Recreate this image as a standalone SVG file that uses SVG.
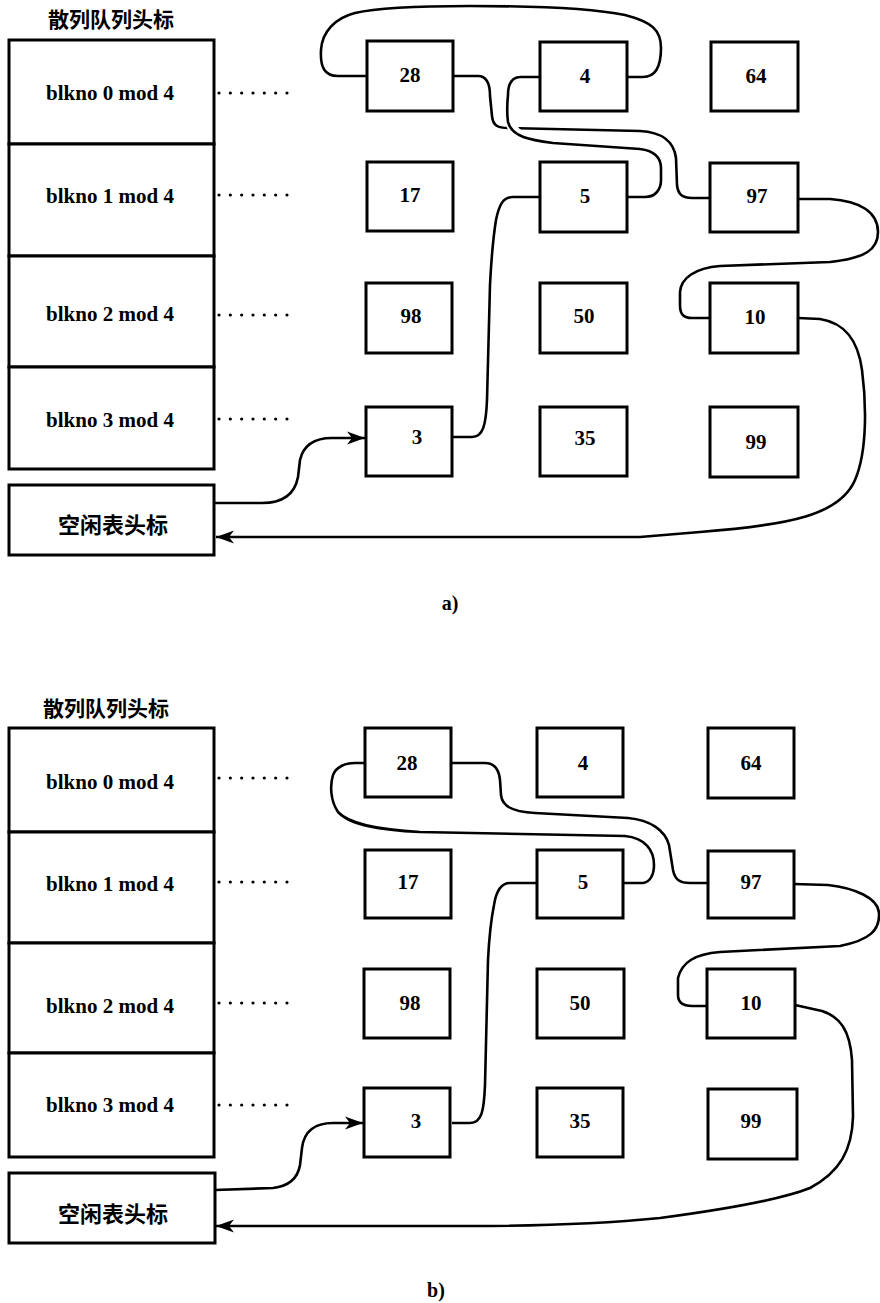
<svg xmlns="http://www.w3.org/2000/svg" width="880" height="1303" viewBox="0 0 880 1303">
<defs>
<style>
.box{fill:#fff;stroke:#000;stroke-width:3}
.t{font-family:"Liberation Serif","Times New Roman",serif;font-weight:bold;font-size:21px;fill:#000;text-anchor:middle;dominant-baseline:central}
.cjk{font-family:"Noto Sans CJK SC","Noto Sans CJK JP",sans-serif;font-weight:bold;font-size:21px;fill:#000;dominant-baseline:central}
.dots{stroke:#000;stroke-width:3.2;stroke-linecap:round;stroke-dasharray:0 11.33;fill:none}
.c{fill:none;stroke:#000;stroke-width:2.6;stroke-linecap:butt;stroke-linejoin:round}
.halo{fill:none;stroke:#fff;stroke-width:10}
.lbl{font-family:"Liberation Serif","Times New Roman",serif;font-weight:bold;font-size:20px;fill:#000;text-anchor:middle;dominant-baseline:central}
</style>
<marker id="arr" markerWidth="20" markerHeight="14" refX="18" refY="7" orient="auto" markerUnits="userSpaceOnUse">
<path d="M0,0.5 L18,7 L0,13.5 L5,7 z" fill="#000"/>
</marker>
</defs>
<rect width="880" height="1303" fill="#fff"/>

<!-- ===== Diagram a) ===== -->
<text class="cjk" x="48" y="18">散列队列头标</text>

<g id="connectors-a">
<path class="c" d="M453,76 L478,76 C488,76 490,86 490,96 L492,116 C493,126 498,128 508,128 L640,131 C662,132 674,142 676,158 L677,185 C678,195 683,198 692,198 L710,198"/>
<path class="halo" d="M508,108 C508,122 512,134 528,139"/>
<path class="c" d="M628,197 L645,197 C655,197 661,190 661,180 L661,168 C661,158 655,151 640,149 L553,143 C530,140 512,137 508,122 C507,115 507,105 508,95 C508,84 512,77 521,77 L540,77"/>
<path class="c" d="M627,77 L643,77 C656,77 661,66 661,48 C661,30 652,22 625,15 C590,8 530,6 470,6 C420,6 380,7 355,13 C335,18 322,32 321,50 C320,68 325,76 338,76 L367,76"/>
<path class="c" d="M540,197 L513,197 C503,197 499,205 496,220 C492,245 491,265 490,285 L487,400 C486,425 483,437 472,437 L453,437"/>
<path class="c" d="M798,199 L830,199 C860,201 878,212 878,232 C878,250 865,258 830,262 L720,266 C695,268 681,278 680,292 L680,305 C680,315 684,318 692,318 L710,318"/>
<path class="c" d="M798,318 L820,319 C845,323 858,340 862,370 C866,400 868,450 855,480 C840,515 790,525 700,532 L640,537 L216,537" marker-end="url(#arr)"/>
<path class="c" d="M215,503 L262,503 C285,503 295,493 298,477 L300,460 C303,447 312,438 332,438 L365,438" marker-end="url(#arr)"/>
</g>

<g id="hash-a-0"><rect class="box" x="9" y="40" width="205" height="104"/><text class="t" x="110" y="93">blkno 0 mod 4</text><line class="dots" x1="219" y1="93" x2="288" y2="93"/></g>
<g id="hash-a-1"><rect class="box" x="9" y="144" width="205" height="112"/><text class="t" x="110" y="196">blkno 1 mod 4</text><line class="dots" x1="219" y1="195" x2="288" y2="195"/></g>
<g id="hash-a-2"><rect class="box" x="9" y="256" width="205" height="111"/><text class="t" x="110" y="314">blkno 2 mod 4</text><line class="dots" x1="219" y1="315" x2="288" y2="315"/></g>
<g id="hash-a-3"><rect class="box" x="9" y="367" width="205" height="102"/><text class="t" x="110" y="420">blkno 3 mod 4</text><line class="dots" x1="219" y1="419" x2="288" y2="419"/></g>
<g id="free-a"><rect class="box" x="9" y="485" width="205" height="70"/><text class="cjk" x="113" y="523" style="text-anchor:middle;font-size:22px">空闲表头标</text></g>

<g id="a-28"><rect class="box" x="367" y="41" width="86" height="70"/><text class="t" x="410" y="75">28</text></g>
<g id="a-4"><rect class="box" x="540" y="42" width="87" height="69"/><text class="t" x="585" y="76">4</text></g>
<g id="a-64"><rect class="box" x="711" y="42" width="87" height="69"/><text class="t" x="756" y="76">64</text></g>
<g id="a-17"><rect class="box" x="367" y="162" width="86" height="69"/><text class="t" x="410" y="195">17</text></g>
<g id="a-5"><rect class="box" x="540" y="162" width="87" height="70"/><text class="t" x="585" y="196">5</text></g>
<g id="a-97"><rect class="box" x="710" y="163" width="88" height="69"/><text class="t" x="757" y="196">97</text></g>
<g id="a-98"><rect class="box" x="366" y="283" width="86" height="70"/><text class="t" x="411" y="316">98</text></g>
<g id="a-50"><rect class="box" x="540" y="283" width="87" height="70"/><text class="t" x="584" y="316">50</text></g>
<g id="a-10"><rect class="box" x="710" y="283" width="88" height="70"/><text class="t" x="755" y="317">10</text></g>
<g id="a-3"><rect class="box" x="366" y="407" width="86" height="69"/><text class="t" x="417" y="437">3</text></g>
<g id="a-35"><rect class="box" x="540" y="407" width="87" height="69"/><text class="t" x="585" y="438">35</text></g>
<g id="a-99"><rect class="box" x="710" y="407" width="88" height="70"/><text class="t" x="756" y="442">99</text></g>

<text class="lbl" x="450" y="603">a)</text>

<!-- ===== Diagram b) ===== -->
<text class="cjk" x="43" y="707">散列队列头标</text>

<g id="connectors-b">
<path class="c" d="M451,763 L485,763 C495,763 499,770 500,780 L501,795 C502,805 510,812 535,813 L628,818 C650,820 665,830 669,845 L673,870 C675,880 680,883 690,883 L708,883"/>
<path class="c" d="M623,883 L643,883 C650,882 654,875 654,865 C654,850 645,838 625,836 L420,832 C380,830 350,825 338,812 C330,800 330,785 333,775 C336,767 345,763 355,763 L365,763"/>
<path class="c" d="M537,883 L510,883 C500,883 496,892 494,905 C491,920 489,940 488,960 L485,1085 C484,1110 482,1123 470,1123 L452,1123"/>
<path class="c" d="M794,884 L828,885 C855,888 878,898 879,913 C880,930 870,940 840,946 L720,952 C695,954 682,962 678,978 L678,995 C678,1003 683,1006 692,1006 L707,1006"/>
<path class="c" d="M795,1005 L822,1011 C840,1017 850,1030 852,1060 L853,1117 C852,1150 840,1172 810,1188 C780,1200 720,1210 660,1218 C600,1224 540,1226 470,1226 L216,1226" marker-end="url(#arr)"/>
<path class="c" d="M215,1190 L273,1188 C290,1186 298,1177 300,1165 L302,1148 C304,1132 313,1123 333,1123 L363,1123" marker-end="url(#arr)"/>
</g>

<g id="hash-b-0"><rect class="box" x="9" y="728" width="205" height="104"/><text class="t" x="110" y="782">blkno 0 mod 4</text><line class="dots" x1="219" y1="778" x2="288" y2="778"/></g>
<g id="hash-b-1"><rect class="box" x="9" y="832" width="205" height="111"/><text class="t" x="110" y="884">blkno 1 mod 4</text><line class="dots" x1="219" y1="882" x2="288" y2="882"/></g>
<g id="hash-b-2"><rect class="box" x="9" y="943" width="205" height="110"/><text class="t" x="110" y="1006">blkno 2 mod 4</text><line class="dots" x1="219" y1="1003" x2="288" y2="1003"/></g>
<g id="hash-b-3"><rect class="box" x="9" y="1053" width="205" height="104"/><text class="t" x="110" y="1105">blkno 3 mod 4</text><line class="dots" x1="219" y1="1105" x2="288" y2="1105"/></g>
<g id="free-b"><rect class="box" x="9" y="1173" width="206" height="70"/><text class="cjk" x="113" y="1212" style="text-anchor:middle;font-size:22px">空闲表头标</text></g>

<g id="b-28"><rect class="box" x="365" y="728" width="86" height="69"/><text class="t" x="407" y="763">28</text></g>
<g id="b-4"><rect class="box" x="537" y="728" width="86" height="69"/><text class="t" x="583" y="763">4</text></g>
<g id="b-64"><rect class="box" x="708" y="728" width="86" height="70"/><text class="t" x="751" y="763">64</text></g>
<g id="b-17"><rect class="box" x="365" y="850" width="86" height="68"/><text class="t" x="408" y="882">17</text></g>
<g id="b-5"><rect class="box" x="537" y="850" width="86" height="68"/><text class="t" x="583" y="882">5</text></g>
<g id="b-97"><rect class="box" x="708" y="851" width="86" height="67"/><text class="t" x="751" y="882">97</text></g>
<g id="b-98"><rect class="box" x="364" y="969" width="86" height="69"/><text class="t" x="410" y="1003">98</text></g>
<g id="b-50"><rect class="box" x="537" y="969" width="87" height="69"/><text class="t" x="580" y="1003">50</text></g>
<g id="b-10"><rect class="box" x="707" y="969" width="88" height="69"/><text class="t" x="751" y="1003">10</text></g>
<g id="b-3"><rect class="box" x="364" y="1088" width="86" height="69"/><text class="t" x="416" y="1121">3</text></g>
<g id="b-35"><rect class="box" x="537" y="1088" width="86" height="69"/><text class="t" x="580" y="1121">35</text></g>
<g id="b-99"><rect class="box" x="708" y="1089" width="89" height="70"/><text class="t" x="751" y="1121">99</text></g>

<text class="lbl" x="436" y="1290">b)</text>
</svg>
